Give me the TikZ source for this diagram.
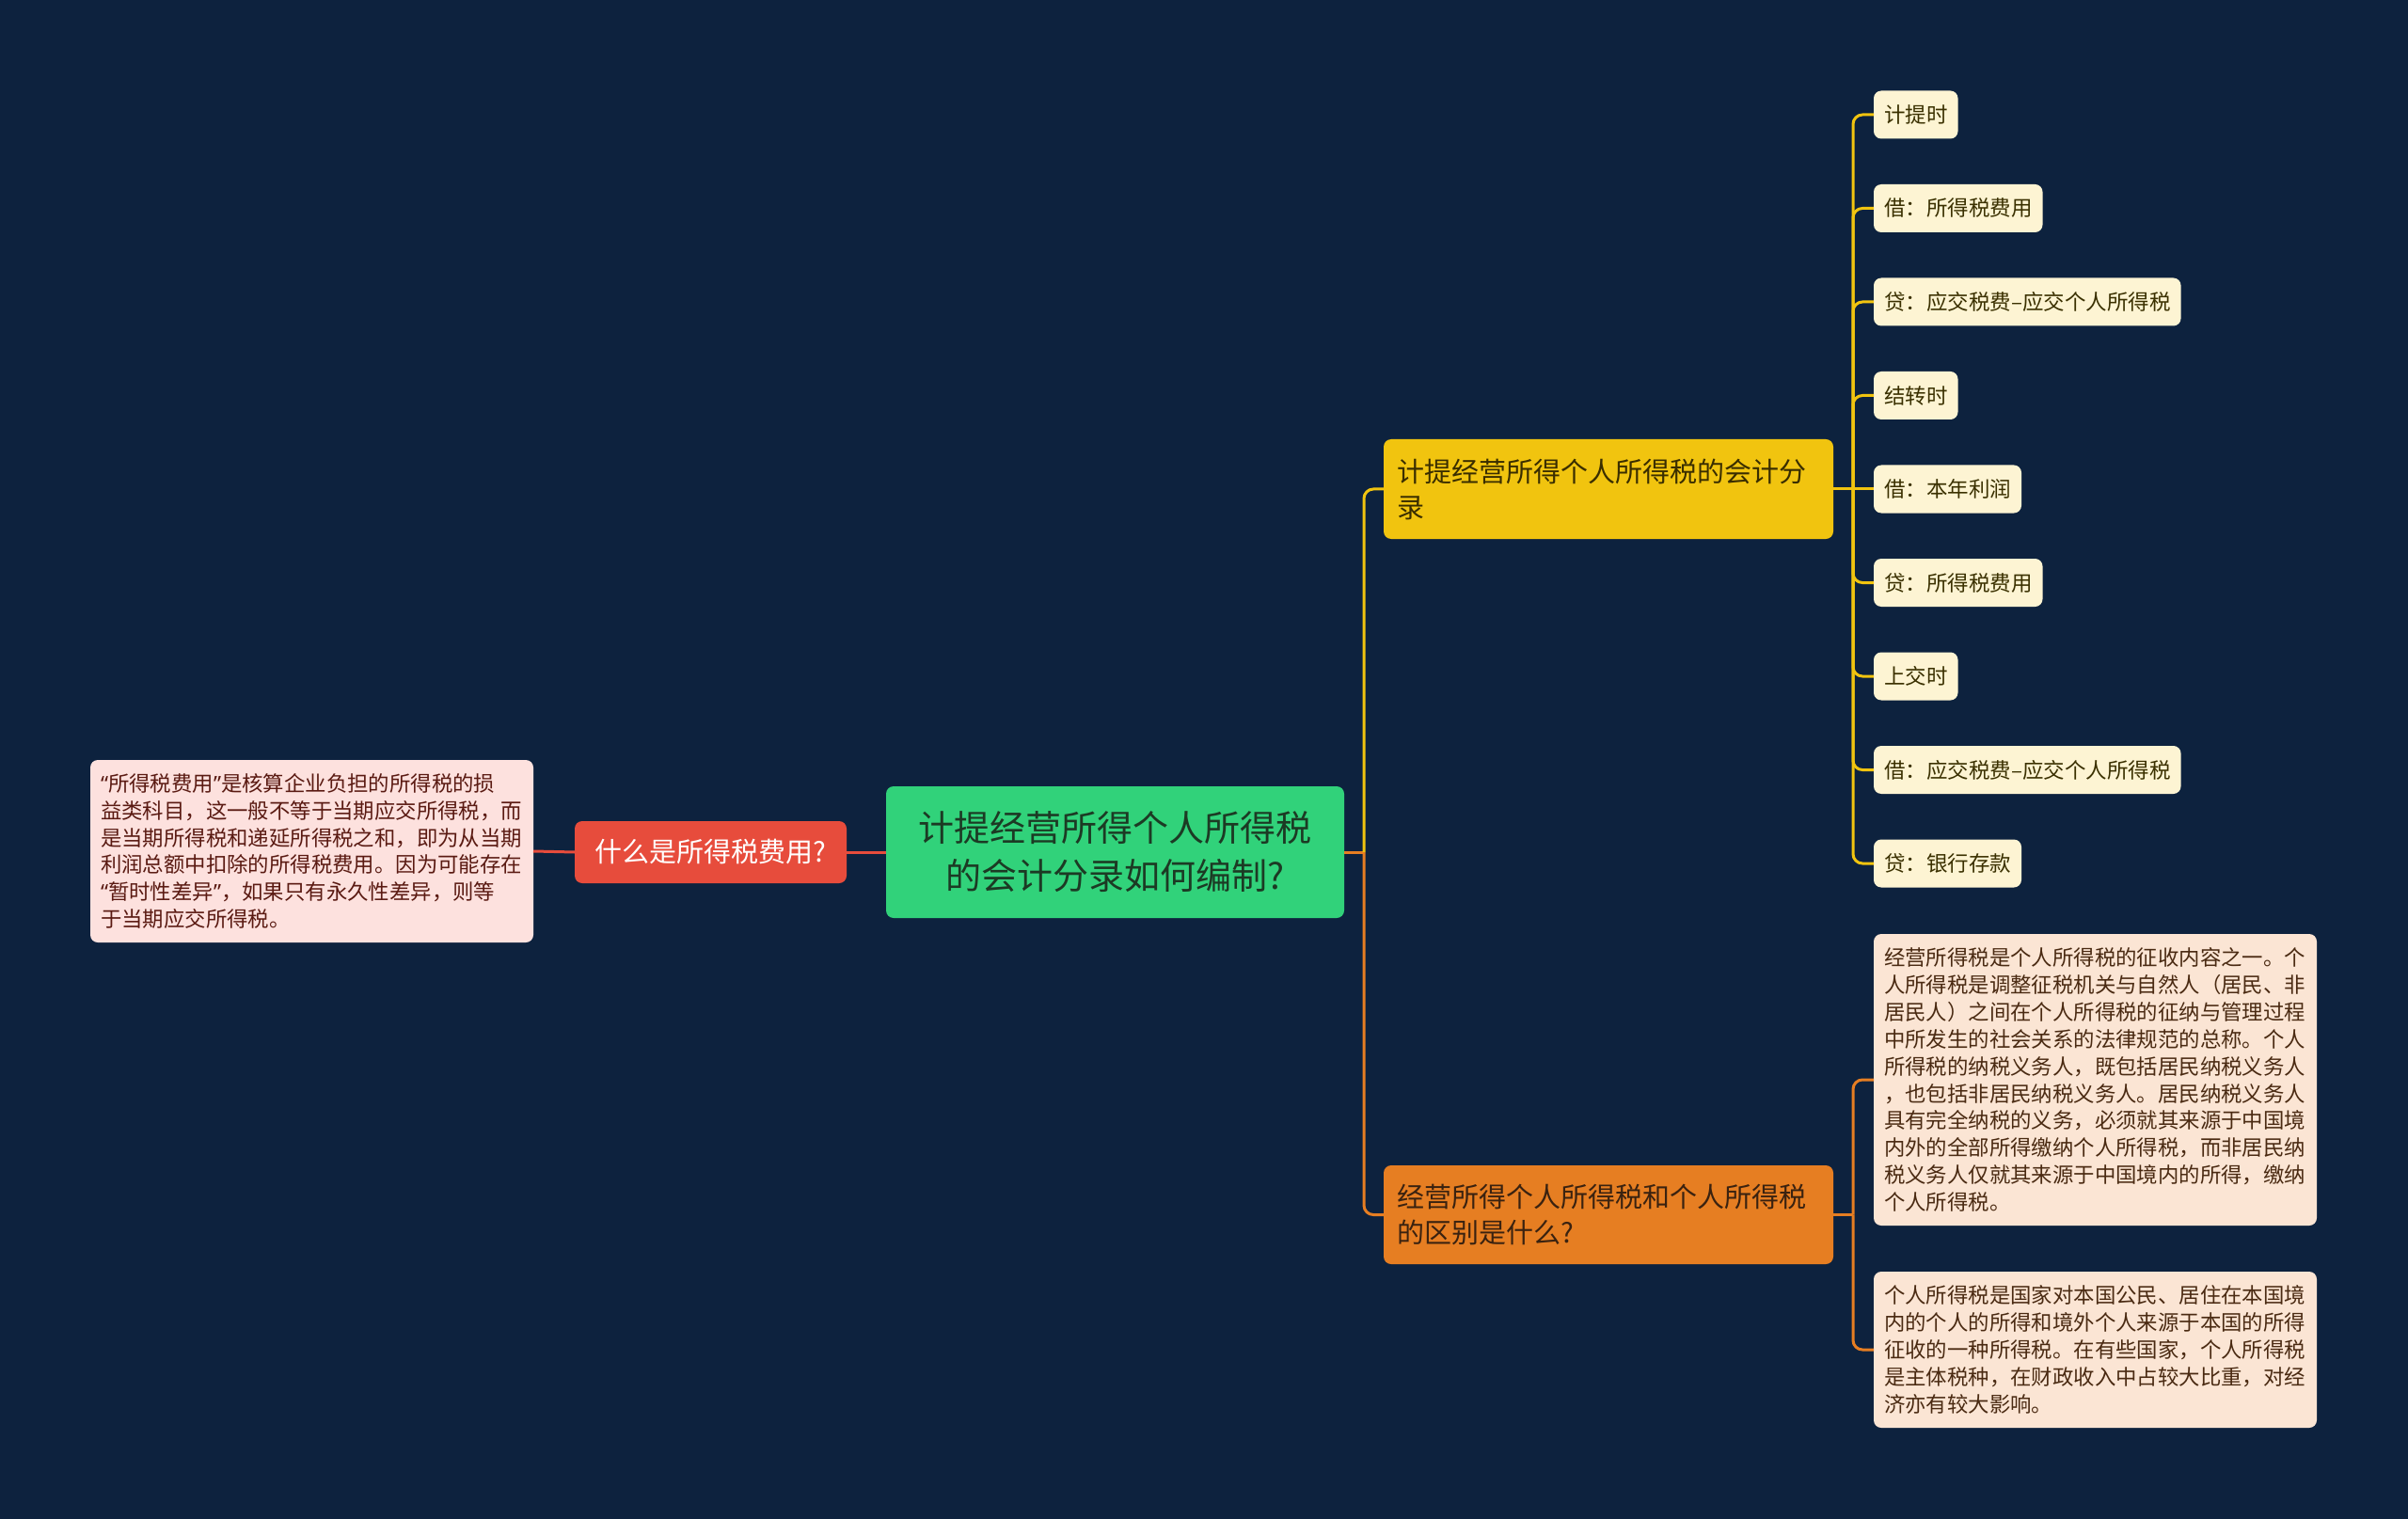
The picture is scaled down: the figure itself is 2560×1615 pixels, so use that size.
\documentclass[tikz,border=0pt]{standalone}
\usepackage{fontspec}
\setmainfont{Noto Sans CJK SC}
\newfontfamily\quotefont{Noto Sans}
\newcommand{\myoq}{{\quotefont “}}
\newcommand{\mycq}{{\quotefont ”}}
\definecolor{bg}{HTML}{0D223E}
\definecolor{cgreen}{HTML}{31D27A}
\definecolor{cgreentext}{HTML}{1C3A24}
\definecolor{cred}{HTML}{E74C3C}
\definecolor{cpink}{HTML}{FDE1DE}
\definecolor{cpinktext}{HTML}{5A1A12}
\definecolor{cyellow}{HTML}{F1C40F}
\definecolor{cyellowtext}{HTML}{3A2E00}
\definecolor{corange}{HTML}{E67E22}
\definecolor{corangetext}{HTML}{3A2210}
\definecolor{cleaf}{HTML}{FDF4D3}
\definecolor{cleaftext}{HTML}{3A3000}
\definecolor{cpeach}{HTML}{FBE5D4}
\definecolor{cpeachtext}{HTML}{4A2A12}
\tikzset{
  box/.style={rounded corners=4pt, inner sep=0pt, outer sep=0pt},
  leafbox/.style={box, fill=cleaf, text=cleaftext, anchor=west, inner xsep=5.5pt,
    minimum height=25.5pt, font=\fontsize{11.25}{14}\selectfont},
  notebox/.style={box, anchor=west, inner xsep=5.5pt, text width=224.5pt, align=left,
    font=\fontsize{11.2}{14.45}\selectfont},
  mainbox/.style={box, anchor=west, inner xsep=7pt, text width=225pt, align=left,
    font=\fontsize{14.5}{19}\selectfont},
  link/.style={line width=1.5pt},
  redline/.style={link, draw=cred},
  yellowline/.style={link, draw=cyellow, rounded corners=5pt},
  orangeline/.style={link, draw=corange, rounded corners=5pt},
}
\begin{document}
\begin{tikzpicture}[x=0.5pt,y=-0.5pt]
\fill[bg] (0,0) rectangle (2560,1615);
\useasboundingbox (0,0) rectangle (2560,1615);

% root
\node[box, fill=cgreen, text=cgreentext, minimum width=243.5pt, minimum height=70pt,
  align=center, font=\fontsize{19}{25.5}\selectfont] (root) at (1185.5,906)
  {计提经营所得个人所得税\\的会计分录如何编制?};

% left branch
\node[box, fill=cred, text=white, minimum width=144.5pt, minimum height=33pt,
  font=\fontsize{14.5}{19}\selectfont] (q1) at (755.5,906) {什么是所得税费用?};
\node[notebox, fill=cpink, text=cpinktext, minimum height=97pt] (pink) at (96,905)
  {\myoq 所得税费用\mycq 是核算企业负担的所得税的损\\
   益类科目，这一般不等于当期应交所得税，而\\
   是当期所得税和递延所得税之和，即为从当期\\
   利润总额中扣除的所得税费用。因为可能存在\\
   \myoq 暂时性差异\mycq ，如果只有永久性差异，则等\\
   于当期应交所得税。};

% right branches
\node[mainbox, fill=cyellow, text=cyellowtext, minimum height=53pt] (yel) at (1471,520)
  {计提经营所得个人所得税的会计分\\录};
\node[mainbox, fill=corange, text=corangetext, minimum height=52.5pt] (ora) at (1471,1291.5)
  {经营所得个人所得税和个人所得税\\的区别是什么?};

% leaves
\node[leafbox] (l1) at (1992,122)   {计提时};
\node[leafbox] (l2) at (1992,221.5) {借：所得税费用};
\node[leafbox] (l3) at (1992,321)   {贷：应交税费–应交个人所得税};
\node[leafbox] (l4) at (1992,420.5) {结转时};
\node[leafbox] (l5) at (1992,520)   {借：本年利润};
\node[leafbox] (l6) at (1992,619.5) {贷：所得税费用};
\node[leafbox] (l7) at (1992,719)   {上交时};
\node[leafbox] (l8) at (1992,818.5) {借：应交税费–应交个人所得税};
\node[leafbox] (l9) at (1992,918)   {贷：银行存款};

\node[notebox, fill=cpeach, text=cpeachtext, minimum height=155pt] (p1) at (1992,1148)
  {经营所得税是个人所得税的征收内容之一。个\\
   人所得税是调整征税机关与自然人（居民、非\\
   居民人）之间在个人所得税的征纳与管理过程\\
   中所发生的社会关系的法律规范的总称。个人\\
   所得税的纳税义务人，既包括居民纳税义务人\\
   ，也包括非居民纳税义务人。居民纳税义务人\\
   具有完全纳税的义务，必须就其来源于中国境\\
   内外的全部所得缴纳个人所得税，而非居民纳\\
   税义务人仅就其来源于中国境内的所得，缴纳\\
   个人所得税。};
\node[notebox, fill=cpeach, text=cpeachtext, minimum height=83pt] (p2) at (1992,1435)
  {个人所得税是国家对本国公民、居住在本国境\\
   内的个人的所得和境外个人来源于本国的所得\\
   征收的一种所得税。在有些国家，个人所得税\\
   是主体税种，在财政收入中占较大比重，对经\\
   济亦有较大影响。};

% junctions
\coordinate (j1) at (1450,906);
\coordinate (j2) at (1970,520);
\coordinate (j3) at (1970,1291.5);

% connectors
\draw[redline] (root.west) -- (q1.east);
\draw[redline] (q1.west) -- (pink.east);
\draw[orangeline] (root.east) -- (j1);
\draw[yellowline] (j1) |- (yel.west);
\draw[orangeline] (j1) |- (ora.west);
\draw[yellowline] (yel.east) -- (j2);
\foreach \n in {l1,l2,l3,l4,l6,l7,l8,l9} {
  \draw[yellowline] (j2) |- (\n.west);
}
\draw[yellowline] (j2) -- (l5.west);
\draw[orangeline] (ora.east) -- (j3);
\draw[orangeline] (j3) |- (p1.west);
\draw[orangeline] (j3) |- (p2.west);
\end{tikzpicture}
\end{document}
